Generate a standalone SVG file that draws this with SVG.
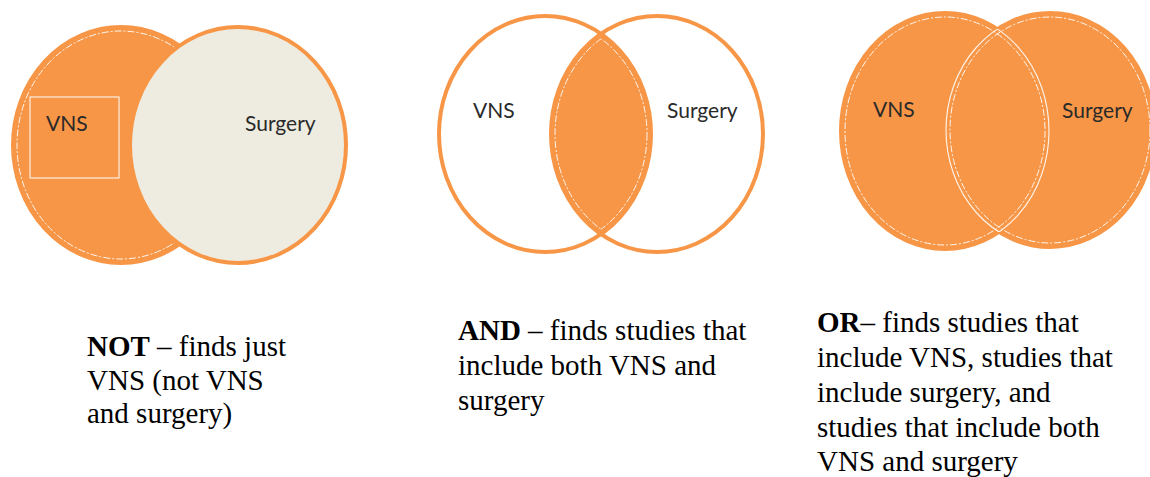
<svg xmlns="http://www.w3.org/2000/svg" width="1150" height="477" viewBox="0 0 1150 477">
<style>
.bg{fill:#ffffff}
.org{fill:#F79646}
.beige{fill:#EEECE1}
.edge{fill:none;stroke:#F79646;stroke-width:4}
.dash{fill:none;stroke:#ffffff;stroke-width:1;stroke-dasharray:7 2 2 2;opacity:0.9}
.thin{fill:none;stroke:#ffffff;stroke-width:1.2;opacity:0.85}
.lbl{font-family:Lato,"Open Sans","Liberation Sans",sans-serif;font-size:21px;fill:#2a2a2a}
.cap{font-family:"Liberation Serif","Times New Roman",serif;font-size:29px;fill:#000000}
.b{font-weight:bold}
</style>
<defs>
<clipPath id="andR"><ellipse cx="657" cy="134" rx="106" ry="118"/></clipPath>
<clipPath id="andRi"><ellipse cx="657" cy="134" rx="102" ry="114"/></clipPath>
<clipPath id="andLi"><ellipse cx="545" cy="134" rx="102" ry="114"/></clipPath>
<clipPath id="orL"><ellipse cx="945" cy="131" rx="104" ry="118"/></clipPath>
<clipPath id="orR"><ellipse cx="1050" cy="130" rx="104" ry="117"/></clipPath>
</defs>
<rect class="bg" x="0" y="0" width="1150" height="477"/>

<g id="not-diagram">
  <ellipse class="org" cx="121" cy="145" rx="108" ry="118"/>
  <ellipse class="edge" cx="121" cy="145" rx="108" ry="118"/>
  <ellipse class="dash" cx="121" cy="145" rx="104" ry="114"/>
  <ellipse class="beige" cx="238" cy="145" rx="108" ry="118"/>
  <ellipse class="edge" cx="238" cy="145" rx="108" ry="118"/>
  <rect x="30" y="97" width="89" height="81" fill="none" stroke="#ffffff" stroke-width="1"/>
  <text class="lbl" x="46" y="131">VNS</text>
  <text class="lbl" x="245" y="131">Surgery</text>
</g>

<g id="and-diagram">
  <ellipse cx="545" cy="134" rx="106" ry="118" fill="#ffffff"/>
  <ellipse cx="657" cy="134" rx="106" ry="118" fill="#ffffff"/>
  <ellipse class="org" cx="545" cy="134" rx="106" ry="118" clip-path="url(#andR)"/>
  <ellipse class="edge" cx="545" cy="134" rx="106" ry="118"/>
  <ellipse class="edge" cx="657" cy="134" rx="106" ry="118"/>
  <ellipse class="dash" cx="545" cy="134" rx="102" ry="114" clip-path="url(#andRi)"/>
  <ellipse class="dash" cx="657" cy="134" rx="102" ry="114" clip-path="url(#andLi)"/>
  <text class="lbl" x="473" y="118">VNS</text>
  <text class="lbl" x="667" y="118">Surgery</text>
</g>

<g id="or-diagram">
  <ellipse class="org" cx="945" cy="131" rx="104" ry="118"/>
  <ellipse class="org" cx="1050" cy="130" rx="104" ry="117"/>
  <ellipse class="edge" cx="945" cy="131" rx="104" ry="118" stroke-width="3"/>
  <ellipse class="edge" cx="1050" cy="130" rx="104" ry="117" stroke-width="3"/>
  <ellipse class="dash" cx="945" cy="131" rx="100" ry="114"/>
  <ellipse class="dash" cx="1050" cy="130" rx="100" ry="113"/>
  <ellipse class="thin" cx="945" cy="131" rx="104" ry="118" clip-path="url(#orR)"/>
  <ellipse class="thin" cx="1050" cy="130" rx="104" ry="117" clip-path="url(#orL)"/>
  <text class="lbl" x="873" y="117">VNS</text>
  <text class="lbl" x="1062" y="118">Surgery</text>
</g>

<g id="not-caption">
  <text class="cap" x="87" y="356"><tspan class="b">NOT</tspan> – finds just</text>
  <text class="cap" x="87" y="390">VNS (not VNS</text>
  <text class="cap" x="87" y="423">and surgery)</text>
</g>

<g id="and-caption">
  <text class="cap" x="458" y="340"><tspan class="b">AND</tspan> – finds studies that</text>
  <text class="cap" x="458" y="375">include both VNS and</text>
  <text class="cap" x="458" y="410">surgery</text>
</g>

<g id="or-caption">
  <text class="cap" x="817" y="332"><tspan class="b">OR</tspan>– finds studies that</text>
  <text class="cap" x="817" y="367">include VNS, studies that</text>
  <text class="cap" x="817" y="402">include surgery, and</text>
  <text class="cap" x="817" y="437">studies that include both</text>
  <text class="cap" x="817" y="471">VNS and surgery</text>
</g>
</svg>
